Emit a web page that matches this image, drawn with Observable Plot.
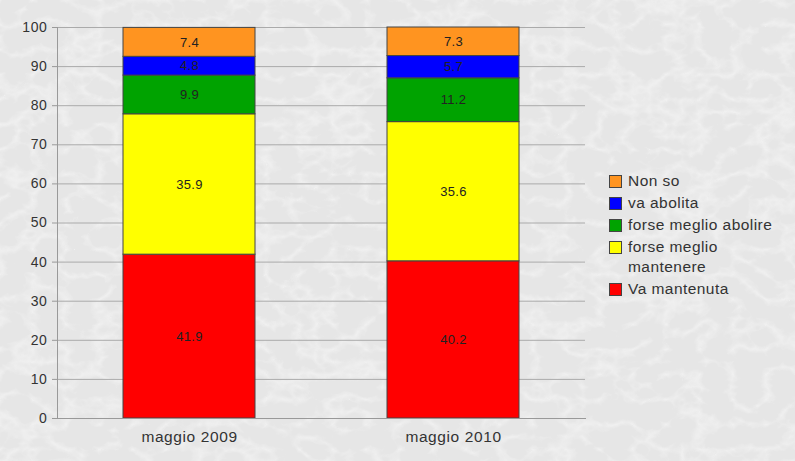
<!DOCTYPE html>
<html>
<head>
<meta charset="utf-8">
<script src="https://cdn.jsdelivr.net/npm/d3@7"></script>
<script src="https://cdn.jsdelivr.net/npm/@observablehq/plot@0.6"></script>
<style>
  html, body { margin: 0; padding: 0; }
  body {
    width: 795px; height: 461px; position: relative; overflow: hidden;
    background-color: #e8e8e8;
    font-family: "Liberation Sans", Arial, sans-serif;
  }
  #bg { position: absolute; left: 0; top: 0; }
  #chart { position: absolute; left: 0; top: 0; }
  #legend { position: absolute; left: 609px; top: 171px; font-size: 15.5px; letter-spacing: 0.45px; color: #333; }
  .item { display: flex; align-items: flex-start; margin-bottom: 2px; line-height: 20px; }
  .sw { width: 11px; height: 11px; border: 1px solid #444; margin-right: 6px; margin-top: 4px; flex: none; }
  #chart text { letter-spacing: 0.6px; }
  #chart g[aria-label="text"] text { letter-spacing: 0.35px; }
</style>
</head>
<body>
<svg id="bg" width="795" height="461">
  <filter id="marble" x="0" y="0" width="100%" height="100%">
    <feTurbulence type="turbulence" baseFrequency="0.03 0.04" numOctaves="3" seed="11" result="n"/>
    <feColorMatrix in="n" type="matrix" values="0 0 0 0 1  0 0 0 0 1  0 0 0 0 1  -2.4 0 0 0 0.8" result="v"/>
    <feGaussianBlur in="v" stdDeviation="0.6"/>
  </filter>
  <rect width="795" height="461" fill="#e6e6e6"/>
  <rect width="795" height="461" filter="url(#marble)" opacity="0.5"/>
</svg>
<div id="chart"></div>
<div id="legend"></div>
<script>
const periods = ["maggio 2009", "maggio 2010"];
const categories = ["Va mantenuta", "forse meglio mantenere", "forse meglio abolire", "va abolita", "Non so"];
const values2009 = [41.9, 35.9, 9.9, 4.8, 7.4];
const values2010 = [40.2, 35.6, 11.2, 5.7, 7.3];
const colors = ["#ff0000", "#ffff00", "#00a300", "#0000ff", "#ff9420"];
const yTicks = [0, 10, 20, 30, 40, 50, 60, 70, 80, 90, 100];

const data = [];
[values2009, values2010].forEach((vals, i) => {
  vals.forEach((v, j) => data.push({period: periods[i], category: categories[j], value: v}));
});

const chart = Plot.plot({
  width: 795,
  height: 461,
  marginLeft: 57,
  marginRight: 210,
  marginTop: 27,
  marginBottom: 43,
  style: {background: "transparent", fontFamily: "'Liberation Sans', Arial, sans-serif", fontSize: "14px", color: "#333"},
  x: {domain: periods, paddingInner: 0.5, paddingOuter: 0.25, label: null},
  y: {domain: [0, 100], label: null},
  color: {domain: categories, range: colors},
  marks: [
    Plot.ruleY(yTicks, {stroke: "#aaaaaa", strokeWidth: 1}),
    Plot.axisY({ticks: yTicks, tickSize: 5, tickPadding: 5, stroke: "#999", fill: "#333", fontSize: 14, label: null}),
    Plot.axisX({tickSize: 0, tickPadding: 12, fill: "#333", fontSize: 15.5, label: null}),
    Plot.barY(data, Plot.stackY({x: "period", y: "value", fill: "category", order: null, stroke: "#444", strokeWidth: 1})),
    Plot.text(data, Plot.stackY({x: "period", y: "value", z: "category", order: null, text: d => d.value.toFixed(1), fill: "#222", fontSize: 13})),
    Plot.frame({anchor: "left", stroke: "#999"}),
    Plot.frame({anchor: "bottom", stroke: "#999"})
  ]
});
document.getElementById("chart").appendChild(chart);

const legend = document.getElementById("legend");
const legendOrder = [4, 3, 2, 1, 0];
const legendLabels = {1: "forse meglio<br>mantenere"};
legendOrder.forEach(j => {
  const item = document.createElement("div");
  item.className = "item";
  item.innerHTML = `<span class="sw" style="background:${colors[j]}"></span><span>${legendLabels[j] || categories[j]}</span>`;
  legend.appendChild(item);
});
</script>
</body>
</html>
